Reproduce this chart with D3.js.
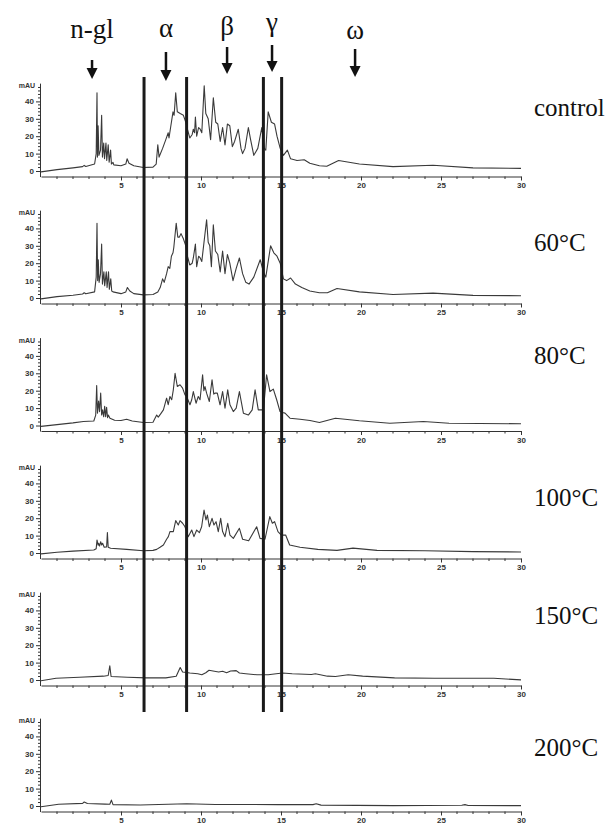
<!DOCTYPE html>
<html>
<head>
<meta charset="utf-8">
<script src="https://cdn.jsdelivr.net/npm/d3@7"></script>
<style>
  body { margin: 0; background: #fff; }
  .tick text { font-family: "Liberation Sans", Arial, sans-serif; font-weight: bold; font-size: 8px; fill: #333; }
</style>
</head>
<body>
<div id="chart"></div>
<script>
// retention time (min) / absorbance (mAU)
var controlTrace = [[0,-0.5],[1,0.8],[2,1.8],[2.6,2.5],[2.7,3.2],[2.8,2.6],[3.35,4],[3.45,10],[3.5,45],[3.53,8],[3.57,26],[3.62,9],[3.72,12],[3.79,32],[3.84,8],[3.92,16],[3.97,7],[4.06,16],[4.11,6],[4.2,15],[4.26,5],[4.35,12],[4.4,4],[4.5,5],[4.55,3.5],[5.0,3],[5.3,4],[5.38,7],[5.5,4.5],[5.8,3],[6.4,2],[7.0,2.2],[7.2,4],[7.3,15],[7.38,8],[7.6,13],[7.8,18],[7.95,22],[8.0,19],[8.1,25],[8.25,34],[8.32,32],[8.42,45],[8.52,34],[8.7,33],[8.9,32],[9.05,28],[9.15,24],[9.3,19],[9.45,21],[9.52,24],[9.6,22],[9.65,31],[9.73,20],[9.85,25],[9.95,24],[10.05,22],[10.2,49],[10.3,33],[10.45,30],[10.6,18],[10.77,42],[10.92,28],[11.05,27],[11.2,17],[11.35,25],[11.5,15],[11.65,27],[11.8,26],[11.96,14],[12.1,17],[12.33,24],[12.5,13],[12.6,10],[12.75,13],[12.96,25],[13.1,18],[13.3,9],[13.55,13],[13.8,25],[13.95,13],[14.05,12],[14.2,34],[14.4,28],[14.6,27],[14.75,20],[14.95,13],[15.15,9],[15.4,12],[15.6,7],[16.0,6],[16.45,6.5],[16.8,4.5],[17.4,3],[17.86,2.7],[18.6,6],[19.9,4],[22,2.5],[24.5,3.3],[27,1.8],[30,1.5]];
var trace60 = [[0,-0.5],[1,0.8],[2,1.6],[2.6,2.3],[2.7,3],[2.8,2.4],[3.35,3.5],[3.45,12],[3.5,43],[3.54,10],[3.58,22],[3.63,9],[3.72,14],[3.79,31],[3.84,8],[3.93,15],[3.98,7],[4.08,15],[4.13,6],[4.22,15],[4.27,5],[4.36,11],[4.42,4],[4.5,3.5],[5.0,2.5],[5.3,3.5],[5.4,6],[5.55,4],[5.8,2.5],[6.4,1.8],[7.0,2],[7.3,3.5],[7.45,6],[7.6,11],[7.7,9],[7.85,14],[7.95,18],[8.05,17],[8.15,24],[8.25,26],[8.3,29],[8.45,43],[8.55,35],[8.65,35],[8.75,37],[8.9,34],[9.05,30],[9.15,24],[9.3,19],[9.45,20],[9.52,23],[9.65,31],[9.73,18],[9.85,24],[9.95,23],[10.05,21],[10.35,45],[10.45,32],[10.55,30],[10.65,18],[10.77,42],[10.9,27],[11.05,25],[11.2,15],[11.35,27],[11.5,14],[11.65,25],[11.8,20],[12.0,10],[12.2,17],[12.4,23],[12.6,14],[12.8,9],[13.0,8],[13.3,12],[13.7,22],[13.9,15],[14.05,12],[14.35,30],[14.55,26],[14.75,24],[14.95,20],[15.15,11],[15.35,10],[15.6,11.5],[15.9,8],[16.3,6],[16.8,4],[17.4,3],[17.9,3],[18.5,5.5],[19.9,3.5],[22,2],[24.5,2.8],[27,1.5],[30,1.3]];
var trace80 = [[0,-0.5],[1,0.5],[2,1.5],[2.65,2.3],[3.3,2.6],[3.42,6],[3.48,23],[3.53,7],[3.6,14],[3.66,8],[3.73,18.6],[3.79,6],[3.85,9],[3.92,5],[3.98,11],[4.04,5],[4.1,10.5],[4.16,4.5],[4.21,6],[4.31,4.2],[4.6,3],[5.0,2.9],[5.35,3.6],[5.7,2.6],[6.4,1.7],[7.0,1.9],[7.23,6],[7.33,4.8],[7.5,7],[7.65,9],[7.85,15.7],[7.95,12],[8.06,16.7],[8.17,14.8],[8.27,20.5],[8.38,30],[8.52,22.4],[8.69,23.4],[8.85,21.5],[9.0,17.6],[9.1,16.7],[9.31,11.9],[9.42,14.8],[9.52,19.5],[9.69,12.8],[9.83,16.7],[9.94,14.8],[10.1,29.1],[10.18,20],[10.25,22.4],[10.35,18.6],[10.52,13.8],[10.69,26.3],[10.8,18],[10.875,18.6],[11.02,18.6],[11.19,11.9],[11.35,19.5],[11.5,10],[11.67,20.5],[11.81,11.9],[12.02,8],[12.2,10],[12.4,19.5],[12.65,7.1],[12.96,6],[13.2,9],[13.38,20.5],[13.58,9],[13.9,9],[14.1,29.1],[14.31,19.5],[14.52,20.9],[14.73,14.8],[14.94,8],[15.1,7.5],[15.25,7.1],[15.56,4.2],[16.19,3.6],[16.81,2.9],[17.4,1.7],[18.4,4.2],[19.9,2.7],[21.8,1.3],[23.9,2.3],[25.5,1.3],[30,1.0]];
var trace100 = [[0,-0.5],[1,0.4],[2,1.1],[3.3,1.7],[3.45,2.5],[3.5,7.5],[3.57,4.5],[3.6,5.6],[3.66,4],[3.73,6.5],[3.79,4.6],[3.85,5.6],[3.95,3.3],[4.1,3.5],[4.15,11.7],[4.2,3.3],[4.35,2.7],[5.35,2.1],[6.4,1.3],[7.0,1.5],[7.23,2.1],[7.44,3.3],[7.65,4.6],[7.85,7.9],[7.96,9.4],[8.06,12.3],[8.27,12.3],[8.42,18.6],[8.58,16.1],[8.69,18.6],[8.85,17.1],[9.0,15.1],[9.2,9.4],[9.42,13.2],[9.56,9.4],[9.73,13.2],[9.9,11.7],[10.04,15.1],[10.19,24.7],[10.31,19],[10.4,21.8],[10.52,15.1],[10.69,19.9],[10.81,16.1],[10.94,18],[11.08,12.3],[11.23,19.9],[11.35,12.3],[11.5,9.4],[11.67,17.1],[11.81,10.3],[12.02,8.4],[12.4,14.2],[12.6,7.9],[12.98,7],[13.48,15.1],[13.69,8.4],[14.0,7.9],[14.3,20.9],[14.46,17.1],[14.6,18],[14.81,12.3],[15.02,10.3],[15.29,10.3],[15.54,4.6],[16.19,3.3],[17.3,2.1],[18.5,1.5],[19.5,2.8],[21,1.5],[24,1.3],[27,0.8],[30,0.6]];
var trace150 = [[0,-0.4],[0.94,1],[2.4,1.6],[3.9,2.2],[4.2,2.6],[4.3,8.2],[4.38,2],[5.4,1.6],[6.6,1.2],[7.8,1.2],[8.45,2.2],[8.7,7.2],[8.85,4.6],[9.3,4],[9.8,3.6],[10.05,3],[10.3,4.2],[10.5,5.6],[10.75,5.2],[11.1,4.6],[11.35,5],[11.6,4.2],[11.85,5.2],[12.2,5.4],[12.4,4],[12.8,3.6],[13.5,3],[14.2,3],[14.7,3.6],[15.1,4],[15.7,3.6],[16.9,3.2],[17.15,3.6],[17.9,2.2],[18.4,2],[19.2,3],[20.1,2.2],[22.1,1.2],[24.6,1],[28.3,1],[30,0.1]];
var trace200 = [[0,-0.4],[1.1,1],[2.6,1.5],[2.7,2.3],[2.9,1.4],[4.0,1.1],[4.3,1.0],[4.4,3.4],[4.5,0.8],[6.2,0.6],[9.1,1.3],[10.9,0.9],[14.8,0.8],[17.0,0.8],[17.2,1.3],[17.5,0.5],[22,0.2],[26.3,0.4],[26.5,0.8],[26.7,0.3],[30,0.2]];

var panelNames = ["control", "60°C", "80°C", "100°C", "150°C", "200°C"];
var panelTraces = [controlTrace, trace60, trace80, trace100, trace150, trace200];

var yTicks = [0, 10, 20, 30, 40],
    xTicks = [5, 10, 15, 20, 25, 30];

// fraction boundaries (min) and the arrows above them
var boundaryTimes = [6.44, 9.1, 13.9, 15.04];
var markerLabels = ["n-gl", "α", "β", "γ", "ω"],
    markerTimes = [3.19, 7.81, 11.63, 14.44, 19.63];

// **************************
// layout
var w = 612, h = 828;
var zeroY = [171, 298, 425.5, 553, 680, 806],  // y of 0 mAU in each panel
    pxPerUnit = 1.74,
    nameY = [108, 243, 356, 498, 616, 748];
var arrowGeom = [ // text baseline, shaft top, tip
  {ty: 38, top: 60, tip: 79}, {ty: 37, top: 52, tip: 81}, {ty: 35, top: 47, tip: 74},
  {ty: 31, top: 45, tip: 72}, {ty: 39, top: 49, tip: 77}];

var svg = d3.select("#chart").append("svg")
    .attr("width", w)
    .attr("height", h);

var x = d3.scaleLinear().domain([0, 30]).range([41, 521]);

var line = d3.line();

panelTraces.forEach(function(data, i) {
  var z = zeroY[i];
  var y = d3.scaleLinear().domain([-3.2, 50.5])
      .range([z + 3.2 * pxPerUnit, z - 50.5 * pxPerUnit]);
  var g = svg.append("g");

  // y axis
  var yAx = g.append("g")
      .attr("transform", "translate(40,0)")
      .call(d3.axisLeft(y).tickValues(yTicks).tickSize(4).tickSizeOuter(0).tickPadding(2));
  yAx.selectAll(".minor")
      .data(d3.range(0, 50, 2).filter(function(v) { return v % 10; }))
      .enter().append("line")
      .attr("class", "minor")
      .attr("x2", -2)
      .attr("y1", function(d) { return y(d); })
      .attr("y2", function(d) { return y(d); })
      .attr("stroke", "#333");
  yAx.select(".domain").attr("stroke", "#333");
  yAx.selectAll(".tick line").attr("stroke", "#333");
  g.append("text")
      .attr("x", 35)
      .attr("y", y(49.3) + 3)
      .attr("text-anchor", "end")
      .style("font-family", "Liberation Sans, Arial, sans-serif")
      .style("font-weight", "bold")
      .style("font-size", "7px")
      .attr("fill", "#333")
      .text("mAU");

  // x axis
  var xAx = g.append("g")
      .attr("transform", "translate(0," + (z + 5.5) + ")")
      .call(d3.axisBottom(x).tickValues(xTicks).tickSize(4).tickSizeOuter(0).tickPadding(2));
  xAx.selectAll(".minor")
      .data(d3.range(1, 30).filter(function(v) { return v % 5; }))
      .enter().append("line")
      .attr("class", "minor")
      .attr("y2", 2.5)
      .attr("x1", function(d) { return x(d); })
      .attr("x2", function(d) { return x(d); })
      .attr("stroke", "#333");
  xAx.select(".domain").attr("stroke", "#333");
  xAx.selectAll(".tick line").attr("stroke", "#333");

  // trace
  g.append("path")
      .datum(data)
      .attr("fill", "none")
      .attr("stroke", "#3a3a3a")
      .attr("stroke-width", 1.1)
      .attr("stroke-linejoin", "round")
      .attr("d", line.x(function(d) { return x(d[0]); }).y(function(d) { return y(d[1]); }));

  // panel name
  svg.append("text")
      .attr("x", 534)
      .attr("y", nameY[i] + 8)
      .style("font-family", "'Liberation Serif', 'Times New Roman', serif")
      .style("font-size", "25px")
      .attr("fill", "#111")
      .text(panelNames[i]);
});

// vertical boundary lines
svg.selectAll(".boundary")
    .data(boundaryTimes)
    .enter().append("line")
    .attr("class", "boundary")
    .attr("x1", function(d) { return x(d); })
    .attr("x2", function(d) { return x(d); })
    .attr("y1", 77)
    .attr("y2", 712)
    .attr("stroke", "#1a1a1a")
    .attr("stroke-width", 3);

// arrows and fraction labels
var marks = svg.selectAll(".marker")
    .data(markerLabels)
    .enter().append("g")
    .attr("class", "marker");
marks.append("text")
    .attr("x", function(d, i) { return x(markerTimes[i]); })
    .attr("y", function(d, i) { return arrowGeom[i].ty; })
    .attr("text-anchor", "middle")
    .style("font-family", "'Liberation Serif', 'Times New Roman', serif")
    .style("font-size", "27px")
    .attr("fill", "#111")
    .text(function(d) { return d; });
marks.append("line")
    .attr("x1", function(d, i) { return x(markerTimes[i]); })
    .attr("x2", function(d, i) { return x(markerTimes[i]); })
    .attr("y1", function(d, i) { return arrowGeom[i].top; })
    .attr("y2", function(d, i) { return arrowGeom[i].tip - 8; })
    .attr("stroke", "#111")
    .attr("stroke-width", 2.5);
marks.append("path")
    .attr("fill", "#111")
    .attr("d", function(d, i) {
      var cx = x(markerTimes[i]), t = arrowGeom[i].tip;
      return "M" + (cx - 5.5) + "," + (t - 11) + "L" + (cx + 5.5) + "," + (t - 11) + "L" + cx + "," + t + "Z";
    });
</script>
</body>
</html>
